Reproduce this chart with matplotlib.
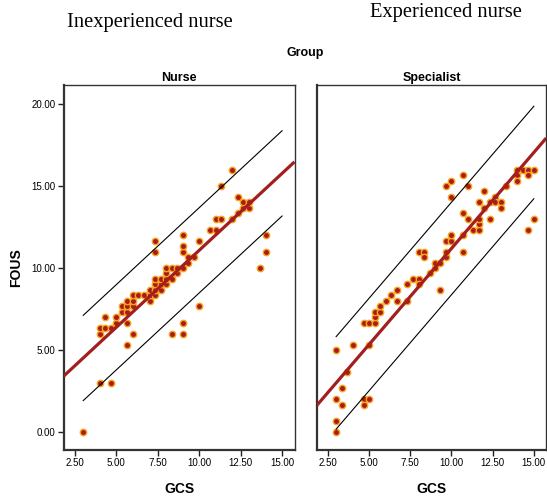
"""GCS vs FOUS scatter by rater group, with fit line and interval lines."""

import matplotlib
matplotlib.use("Agg")
import matplotlib.pyplot as plt
import numpy as np
from matplotlib.ticker import FormatStrFormatter

# ---- data ------------------------------------------------------------------
nurse_gcs = [3.0, 4.0, 4.67, 4.0, 4.0, 4.33, 4.67, 4.33, 5.0, 5.0,
             5.33, 5.33, 5.67, 5.67, 5.67, 5.67, 5.67, 6.0, 6.0, 6.0,
             6.0, 6.33, 6.67, 7.0, 7.0, 7.0, 7.33, 7.33, 7.33, 7.33,
             7.33, 7.33, 7.67, 7.67, 7.67, 8.0, 8.0, 8.0, 8.0, 8.33,
             8.33, 8.33, 8.67, 8.67, 9.0, 9.0, 9.0, 9.0, 9.0, 9.0,
             9.33, 9.33, 9.67, 10.0, 10.0, 10.67, 11.0, 11.0, 11.33, 11.33,
             12.0, 12.0, 12.33, 12.33, 12.67, 12.67, 13.0, 13.0, 13.67, 14.0,
             14.0]
nurse_fous = [0.0, 3.0, 3.0, 6.0, 6.33, 6.33, 6.33, 7.0, 6.67, 7.0,
              7.33, 7.67, 5.33, 6.67, 7.33, 7.67, 8.0, 6.0, 7.67, 8.0,
              8.33, 8.33, 8.33, 8.0, 8.33, 8.67, 8.33, 8.67, 9.0, 9.33,
              11.0, 11.67, 8.67, 9.0, 9.33, 9.0, 9.33, 9.67, 10.0, 6.0,
              9.33, 10.0, 9.67, 10.0, 6.0, 6.67, 10.0, 11.0, 11.33, 12.0,
              10.33, 10.67, 10.67, 7.67, 11.67, 12.33, 12.33, 13.0, 13.0, 15.0,
              13.0, 16.0, 13.33, 14.33, 13.67, 14.0, 13.67, 14.0, 10.0, 11.0,
              12.0]

spec_gcs = [3.0, 3.0, 3.0, 3.33, 3.33, 3.67, 3.0, 4.0, 5.0, 4.67,
            4.67, 5.0, 4.67, 5.0, 5.33, 5.33, 5.33, 5.67, 5.67, 6.0,
            6.33, 6.67, 6.67, 7.33, 7.33, 7.67, 8.0, 8.0, 8.0, 8.33,
            8.33, 8.67, 9.0, 9.0, 9.33, 9.33, 9.67, 9.67, 9.67, 10.0,
            10.0, 10.67, 10.67, 9.67, 10.0, 10.0, 10.67, 11.0, 10.67, 11.0,
            11.33, 11.67, 11.67, 11.67, 11.67, 12.0, 12.0, 12.33, 12.33, 12.67,
            12.67, 13.0, 13.0, 13.33, 14.0, 14.0, 14.0, 14.33, 14.67, 14.67,
            15.0, 15.0, 14.67]
spec_fous = [0.0, 0.67, 2.0, 1.67, 2.67, 3.67, 5.0, 5.33, 5.33, 2.0,
             1.67, 2.0, 6.67, 6.67, 6.67, 7.0, 7.33, 7.33, 7.67, 8.0,
             8.33, 8.67, 8.0, 8.0, 9.0, 9.33, 9.33, 9.0, 11.0, 11.0,
             10.67, 9.67, 10.0, 10.33, 10.33, 8.67, 10.67, 11.0, 11.67, 11.67,
             12.0, 12.0, 11.0, 15.0, 15.33, 14.33, 15.67, 15.0, 13.33, 13.0,
             12.33, 12.33, 12.67, 13.0, 14.0, 14.67, 13.67, 14.0, 13.0, 14.33,
             14.0, 14.0, 13.67, 15.0, 16.0, 15.67, 15.33, 16.0, 16.0, 15.67,
             16.0, 13.0, 12.33]

# fit lines (intercept, slope) and half-width of the interval lines
nurse_fit = (1.70, 0.938)
spec_fit = (-0.52, 1.171)
nurse_band = 2.6
spec_band = 2.82

panel_titles = ["Nurse", "Specialist"]
xticks = [2.5, 5.0, 7.5, 10.0, 12.5, 15.0]
yticks = [0.0, 5.0, 10.0, 15.0, 20.0]

# ---- style ----------------------------------------------------------------
SANS = "Liberation Sans"
SERIF = "Liberation Serif"
DOT_FACE = "#A81C1C"
DOT_EDGE = "#F8A41C"
FIT_COLOR = "#A31F1F"
XLIM = (1.82, 15.75)
YLIM = (-1.1, 21.16)

fig = plt.figure(figsize=(5.47, 4.96), dpi=100)
W, H = 547, 496


def px_axes(x0, y0, x1, y1):
    return fig.add_axes([x0 / W, 1 - y1 / H, (x1 - x0) / W, (y1 - y0) / H])


ax_l = px_axes(63.7, 85, 294.5, 450)
ax_r = px_axes(316.7, 85, 546.2, 450)

panels = [
    (ax_l, nurse_gcs, nurse_fous, nurse_fit, nurse_band),
    (ax_r, spec_gcs, spec_fous, spec_fit, spec_band),
]

# interval lines span the GCS range of the whole sample
all_gcs = np.concatenate([nurse_gcs, spec_gcs])
xe = np.array([all_gcs.min(), all_gcs.max()])

for i, (ax, gx, fy, fit, band) in enumerate(panels):
    a, b = fit
    ax.scatter(gx, fy, s=21, c=DOT_FACE, edgecolors=DOT_EDGE,
               linewidths=1.0, zorder=2)
    xs = np.array(XLIM)
    ax.plot(xs, a + b * xs, color=FIT_COLOR, lw=2.3, zorder=3,
            solid_capstyle="butt")
    ax.plot(xe, a + b * xe + band, color="black", lw=0.8, zorder=3)
    ax.plot(xe, a + b * xe - band, color="black", lw=0.8, zorder=3)

    ax.set_xlim(*XLIM)
    ax.set_ylim(*YLIM)
    ax.set_xticks(xticks)
    ax.xaxis.set_major_formatter(FormatStrFormatter("%.2f"))
    ax.set_yticks(yticks)
    ax.yaxis.set_major_formatter(FormatStrFormatter("%.2f"))
    ax.tick_params(axis="both", direction="out", length=4, width=1.0,
                   labelsize=7, color="#222222", pad=2)
    for lab in ax.get_xticklabels() + ax.get_yticklabels():
        lab.set_family(SANS)
    for side, sp in ax.spines.items():
        sp.set_color("#333333")
        sp.set_linewidth(1.6 if side in ("left", "bottom") else 1.0)
    ax.set_title(panel_titles[i], fontsize=9, fontweight="bold",
                 family=SANS, pad=3)
    ax.set_xlabel("GCS", fontsize=10, fontweight="bold", family=SANS,
                  labelpad=10)

ax_r.tick_params(axis="y", left=False, labelleft=False)
ax_l.set_ylabel("FOUS", fontsize=10, fontweight="bold", family=SANS,
                labelpad=6)

fig.text(305 / W, 1 - 53 / H, "Group", ha="center", va="center",
         fontsize=9, fontweight="bold", family=SANS)
fig.text(150 / W, 1 - 22 / H, "Inexperienced nurse", ha="center",
         va="center", fontsize=14.8, family=SERIF)
fig.text(446 / W, 1 - 13 / H, "Experienced nurse", ha="center",
         va="center", fontsize=14.8, family=SERIF)

fig.savefig("out.png", dpi=100)
